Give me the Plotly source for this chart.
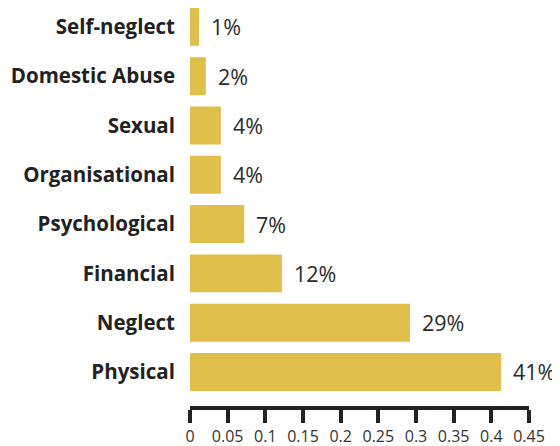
import plotly.graph_objects as go

categories = ["Physical", "Neglect", "Financial", "Psychological",
              "Organisational", "Sexual", "Domestic Abuse", "Self-neglect"]
values = [0.413, 0.292, 0.122, 0.072, 0.041, 0.041, 0.021, 0.012]
labels = ["41%", "29%", "12%", "7%", "4%", "4%", "2%", "1%"]
x_ticks = [0, 0.05, 0.1, 0.15, 0.2, 0.25, 0.3, 0.35, 0.4, 0.45]
x_ticktext = ["0", "0.05", "0.1", "0.15", "0.2", "0.25", "0.3", "0.35", "0.4", "0.45"]

fig = go.Figure()
fig.add_trace(go.Bar(
    x=values, y=categories, orientation="h",
    marker=dict(color="#DFBF4A", line=dict(width=0)),
    hoverinfo="skip",
))

for c, v, t in zip(categories, values, labels):
    fig.add_annotation(x=v, y=c, text=t, xanchor="left", yanchor="middle",
                       xshift=10, showarrow=False,
                       font=dict(family="Open Sans", size=21.5, color="#2a2a2a"))

fig.update_layout(
    width=552, height=438,
    margin=dict(l=182, r=31, t=0, b=40),
    paper_bgcolor="white", plot_bgcolor="white",
    showlegend=False,
    bargap=0.23,
    xaxis=dict(
        range=[0, 0.45], tickvals=x_ticks, ticktext=x_ticktext,
        showgrid=False, zeroline=False,
        showline=True, linewidth=4, linecolor="#222222",
        ticks="outside", ticklen=13, tickwidth=4, tickcolor="#222222",
        tickfont=dict(family="Open Sans", size=16, color="#333333"),
        fixedrange=True,
    ),
    yaxis=dict(
        type="category", categoryorder="array", categoryarray=categories,
        range=[-0.69, 7.383],
        showgrid=False, zeroline=False, showline=False, ticks="",
        ticklabelstandoff=14,
        tickfont=dict(family="Open Sans", size=20.5, color="#222222", weight="bold"),
        fixedrange=True,
    ),
)

fig.write_html("out.html")
